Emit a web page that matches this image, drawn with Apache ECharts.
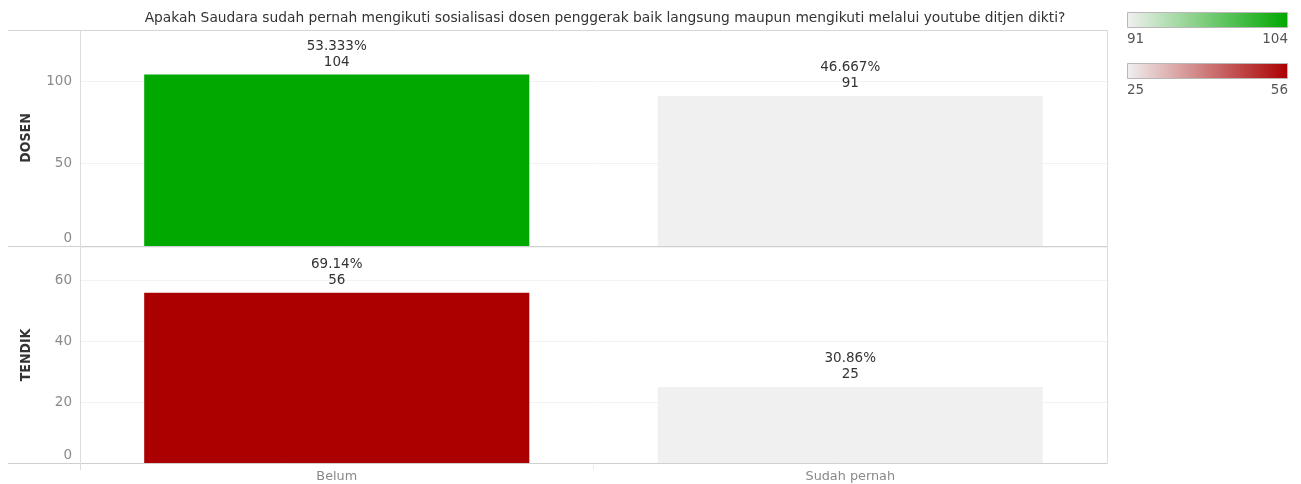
<!DOCTYPE html>
<html><head><meta charset="utf-8">
<script src="https://cdn.jsdelivr.net/npm/echarts@6/dist/echarts.min.js"></script>
<style>html,body{margin:0;padding:0;background:#fff}#c{width:1301px;height:484px}</style>
</head><body><div id="c"></div>
<script>
const titleText = 'Apakah Saudara sudah pernah mengikuti sosialisasi dosen penggerak baik langsung maupun mengikuti melalui youtube ditjen dikti?';
const categories = ['Belum', 'Sudah pernah'];
const rowNames = ['DOSEN', 'TENDIK'];
const dosenValues = [104, 91];
const tendikValues = [56, 25];
const dosenPct = ['53.333%', '46.667%'];
const tendikPct = ['69.14%', '30.86%'];
const dosenAxisMax = 131;
const tendikAxisMax = 71;
const dosenTickStep = 50;
const tendikTickStep = 20;

const FONT = '"DejaVu Sans", "Open Sans", sans-serif';
const NARROW = '"Liberation Sans Narrow", "DejaVu Sans Condensed", sans-serif';
const greenRange = ['#f0f0f0', '#00a800'];
const redRange = ['#f0f0f0', '#aa0000'];

const L = 80, R = 1107, T0 = 30, H = 216, T1 = 247;

function labelFor(pcts) {
  return {
    show: true, position: 'top', distance: 4,
    fontFamily: FONT, fontSize: 13.5, color: '#333', lineHeight: 16, align: 'center',
    formatter: p => pcts[p.dataIndex] + '\n' + p.value
  };
}

const dMin = Math.min(...dosenValues), dMax = Math.max(...dosenValues);
const tMin = Math.min(...tendikValues), tMax = Math.max(...tendikValues);

function hLine(y, x1, x2, c) {
  return { type: 'line', shape: { x1: x1, y1: y, x2: x2, y2: y }, style: { stroke: c, lineWidth: 1 }, silent: true, z: 10 };
}
function vLine(x, y1, y2, c) {
  return { type: 'line', shape: { x1: x, y1: y1, x2: x, y2: y2 }, style: { stroke: c, lineWidth: 1 }, silent: true, z: 10 };
}
function legendBar(y, colors, lo, hi) {
  return [
    { type: 'rect', shape: { x: 1127.5, y: y + 0.5, width: 160, height: 15 },
      style: { stroke: '#b8b8b8', lineWidth: 1,
        fill: new echarts.graphic.LinearGradient(0, 0, 1, 0, [{ offset: 0, color: colors[0] }, { offset: 1, color: colors[1] }]) } },
    { type: 'text', x: 1127, y: y + 20, style: { text: String(lo), fontFamily: FONT, fontSize: 13.5, fill: '#555', align: 'left', verticalAlign: 'top' } },
    { type: 'text', x: 1288, y: y + 20, style: { text: String(hi), fontFamily: FONT, fontSize: 13.5, fill: '#555', align: 'right', verticalAlign: 'top' } }
  ];
}

const chart = echarts.init(document.getElementById('c'), null, { renderer: 'canvas' });
const yLabel = {
  fontFamily: FONT, fontSize: 13.5, color: '#8a8a8a', margin: 8, showMaxLabel: false,
  formatter: v => v === 0 ? '{z|0}' : String(v),
  rich: { z: { fontFamily: FONT, fontSize: 13.5, color: '#8a8a8a', padding: [0, 0, 16, 0] } }
};
const split = { show: true, lineStyle: { color: '#f2f2f2', width: 1 } };
const nameStyle = { fontFamily: NARROW, fontSize: 14, fontWeight: 'bold', color: '#333' };

chart.setOption({
  animation: false,
  title: { text: titleText, left: 600, top: 6, textAlign: 'center',
    textStyle: { fontFamily: FONT, fontSize: 13.8, fontWeight: 'normal', color: '#333' } },
  grid: [
    { left: L, top: T0, width: R - L, height: H },
    { left: L, top: T1, width: R - L, height: H }
  ],
  xAxis: [
    { type: 'category', gridIndex: 0, data: categories, axisLine: { show: false }, axisTick: { show: false }, axisLabel: { show: false } },
    { type: 'category', gridIndex: 1, data: categories, axisLine: { show: false }, axisTick: { show: false },
      axisLabel: { fontFamily: FONT, fontSize: 12.8, color: '#888', margin: 7 } }
  ],
  yAxis: [
    { type: 'value', gridIndex: 0, min: 0, max: dosenAxisMax, interval: dosenTickStep,
      name: rowNames[0], nameLocation: 'middle', nameGap: 47, nameRotate: 90, nameTextStyle: nameStyle,
      axisLine: { show: false }, axisTick: { show: false }, axisLabel: yLabel, splitLine: split },
    { type: 'value', gridIndex: 1, min: 0, max: tendikAxisMax, interval: tendikTickStep,
      name: rowNames[1], nameLocation: 'middle', nameGap: 47, nameRotate: 90, nameTextStyle: nameStyle,
      axisLine: { show: false }, axisTick: { show: false }, axisLabel: yLabel, splitLine: split }
  ],
  visualMap: [
    { type: 'continuous', show: false, seriesIndex: 0, dimension: 1, min: dMin, max: dMax, inRange: { color: greenRange } },
    { type: 'continuous', show: false, seriesIndex: 1, dimension: 1, min: tMin, max: tMax, inRange: { color: redRange } }
  ],
  series: [
    { type: 'bar', xAxisIndex: 0, yAxisIndex: 0, data: dosenValues, barWidth: '75%', label: labelFor(dosenPct) },
    { type: 'bar', xAxisIndex: 1, yAxisIndex: 1, data: tendikValues, barWidth: '75%', label: labelFor(tendikPct) }
  ],
  graphic: [
    hLine(30.5, 8, R, '#d6d6d6'),
    hLine(246.5, 8, R, '#d0d0d0'),
    hLine(463.5, 8, R, '#d0d0d0'),
    vLine(80.5, 30, 470, '#dddddd'),
    vLine(R + 0.5, 30, 464, '#dddddd'),
    vLine(593.5, 464, 470, '#eeeeee'),
    ...legendBar(12, greenRange, dMin, dMax),
    ...legendBar(63, redRange, tMin, tMax)
  ]
});
</script></body></html>
